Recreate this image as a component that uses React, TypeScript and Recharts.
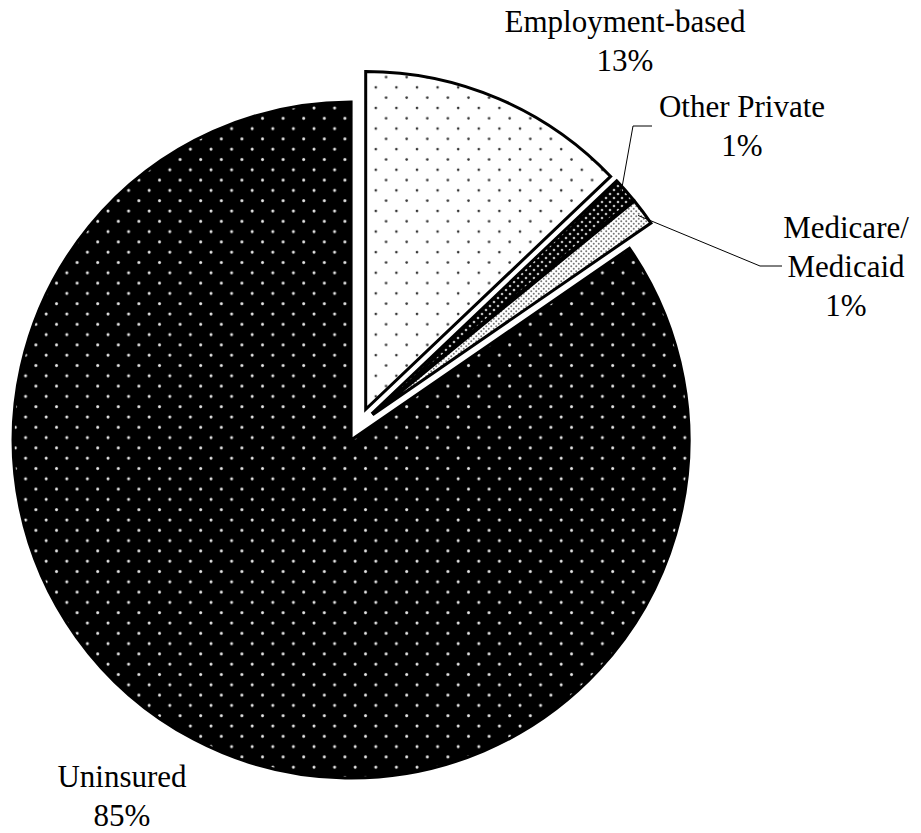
import { PieChart, Pie, Cell, Sector, Tooltip } from 'recharts';

const categories = ['Employment-based', 'Other Private', 'Medicare/Medicaid', 'Uninsured'];
const shares = [12.9, 1.2, 1.3, 84.6];
const labelRows = [['Employment-based'], ['Other Private'], ['Medicare/', 'Medicaid'], ['Uninsured']];

const data = categories.map((name, i) => ({ name, value: shares[i] }));

const fills = ['url(#dotsLight)', 'url(#dotsDarkFine)', 'url(#dotsGreyFine)', 'url(#dotsDark)'];

const CX = 359;
const CY = 425;
const R = 338;
const EXPLODE = 17;
const RADIAN = Math.PI / 180;
const FONT = 'Liberation Serif, Times New Roman, serif';

// label position (first baseline, centred) relative to pie centre; leader elbow/end for the small ones
const labelPlacement: { dx: number; dy: number; elbow?: [number, number]; end?: [number, number] }[] = [
  { dx: 266, dy: -393 },
  { dx: 383, dy: -308, elbow: [274, -299], end: [293, -299] },
  { dx: 487, dy: -187, elbow: [401, -159], end: [423, -159] },
  { dx: -237, dy: 362 },
];

const renderSlice = (props: any) => {
  const { cx, cy, innerRadius, outerRadius, startAngle, endAngle, midAngle, fill } = props;
  const ox = EXPLODE * Math.cos(-midAngle * RADIAN);
  const oy = EXPLODE * Math.sin(-midAngle * RADIAN);
  return (
    <Sector
      cx={cx + ox}
      cy={cy + oy}
      innerRadius={innerRadius}
      outerRadius={outerRadius}
      startAngle={startAngle}
      endAngle={endAngle}
      fill={fill}
      stroke="#000"
      strokeWidth={3}
      strokeLinejoin="miter"
    />
  );
};

const renderLabel = (props: any) => {
  const { cx, cy, midAngle, outerRadius, index, percent } = props;
  const p = labelPlacement[index];
  const x = cx + p.dx;
  const y = cy + p.dy;
  const rows = [...labelRows[index], `${Math.round(percent * 100)}%`];
  let leader = null;
  if (p.elbow && p.end) {
    const r = outerRadius + EXPLODE - 6;
    const sx = cx + r * Math.cos(-midAngle * RADIAN);
    const sy = cy + r * Math.sin(-midAngle * RADIAN);
    leader = (
      <polyline
        points={`${sx},${sy} ${cx + p.elbow[0]},${cy + p.elbow[1]} ${cx + p.end[0]},${cy + p.end[1]}`}
        fill="none"
        stroke="#000"
        strokeWidth={1}
      />
    );
  }
  return (
    <g>
      {leader}
      <text x={x} y={y} textAnchor="middle" fontFamily={FONT} fontSize={31} fill="#000">
        {rows.map((row, i) => (
          <tspan key={i} x={x} dy={i === 0 ? 0 : 39}>
            {row}
          </tspan>
        ))}
      </text>
    </g>
  );
};

export default function App() {
  return (
    <div style={{ position: 'absolute', left: 0, top: 0, background: '#fff' }}>
      <PieChart width={921} height={833} margin={{ top: 0, right: 0, bottom: 0, left: 0 }}>
        <defs>
          <pattern id="dotsLight" width={20.6} height={20.6} patternUnits="userSpaceOnUse">
            <rect width={20.6} height={20.6} fill="#fff" />
            <circle cx={5} cy={5} r={1.3} fill="#333" />
            <circle cx={15.3} cy={15.3} r={1.3} fill="#333" />
          </pattern>
          <pattern id="dotsDark" width={20.6} height={20.6} patternUnits="userSpaceOnUse">
            <rect width={20.6} height={20.6} fill="#000" />
            <circle cx={5} cy={5} r={1.5} fill="#e6e6e6" />
            <circle cx={15.3} cy={15.3} r={1.5} fill="#e6e6e6" />
          </pattern>
          <pattern id="dotsDarkFine" width={8} height={8} patternUnits="userSpaceOnUse">
            <rect width={8} height={8} fill="#000" />
            <circle cx={2} cy={2} r={1.3} fill="#bbb" />
            <circle cx={6} cy={6} r={1.3} fill="#bbb" />
          </pattern>
          <pattern id="dotsGreyFine" width={5} height={5} patternUnits="userSpaceOnUse">
            <rect width={5} height={5} fill="#fff" />
            <circle cx={1.25} cy={1.25} r={1} fill="#777" />
            <circle cx={3.75} cy={3.75} r={1} fill="#777" />
          </pattern>
        </defs>
        <Pie
          data={data}
          dataKey="value"
          nameKey="name"
          cx={CX}
          cy={CY}
          outerRadius={R}
          startAngle={90}
          endAngle={-270}
          isAnimationActive={false}
          shape={renderSlice}
          activeShape={renderSlice}
          inactiveShape={renderSlice}
          label={renderLabel}
          labelLine={false}
        >
          {data.map((d, i) => (
            <Cell key={d.name} fill={fills[i]} />
          ))}
        </Pie>
        <Tooltip defaultIndex={0} content={() => null} cursor={false} />
      </PieChart>
    </div>
  );
}
